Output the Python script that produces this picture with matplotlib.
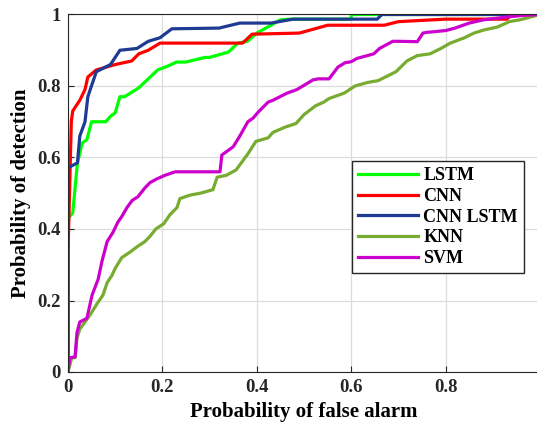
import numpy as np
import matplotlib
matplotlib.use("Agg")
import matplotlib.pyplot as plt

plt.rcParams['font.family'] = ['Liberation Serif', 'DejaVu Serif']
plt.rcParams['font.weight'] = 'bold'

# ROC points (false alarm, detection)
lstm_x = [0.0, 0.0, 0.01, 0.02, 0.03, 0.04, 0.05, 0.08, 0.09, 0.10, 0.11, 0.12,
          0.15, 0.17, 0.19, 0.21, 0.23, 0.25, 0.29, 0.30, 0.34, 0.36, 0.38, 0.40,
          0.43, 0.45, 0.47, 0.49, 0.60, 0.60, 1.0]
lstm_y = [0.0, 0.43, 0.445, 0.585, 0.64, 0.65, 0.70, 0.70, 0.715, 0.725, 0.77, 0.77,
          0.795, 0.82, 0.845, 0.855, 0.867, 0.867, 0.88, 0.88, 0.895, 0.92, 0.925, 0.948,
          0.97, 0.985, 0.987, 0.987, 0.987, 1.0, 1.0]

cnn_x = [0.0, 0.0, 0.007, 0.01, 0.025, 0.036, 0.042, 0.06, 0.10, 0.135, 0.15, 0.17,
         0.195, 0.37, 0.39, 0.49, 0.55, 0.67, 0.70, 0.80, 0.93, 0.94, 1.0]
cnn_y = [0.0, 0.33, 0.70, 0.73, 0.76, 0.79, 0.825, 0.845, 0.86, 0.87, 0.89, 0.90,
         0.92, 0.92, 0.945, 0.948, 0.97, 0.97, 0.98, 0.987, 0.987, 1.0, 1.0]

cnnlstm_x = [0.0, 0.0, 0.004, 0.02, 0.025, 0.036, 0.042, 0.06, 0.09, 0.11, 0.146,
             0.17, 0.195, 0.22, 0.32, 0.364, 0.43, 0.477, 0.655, 0.665, 1.0]
cnnlstm_y = [0.0, 0.57, 0.574, 0.585, 0.66, 0.70, 0.77, 0.84, 0.86, 0.90, 0.905,
             0.925, 0.935, 0.96, 0.962, 0.976, 0.976, 0.987, 0.987, 1.0, 1.0]

knn_x = [0.0, 0.008, 0.015, 0.019, 0.025, 0.036, 0.047, 0.061, 0.074, 0.083, 0.093,
         0.10, 0.114, 0.131, 0.146, 0.163, 0.174, 0.186, 0.203, 0.216, 0.231, 0.237,
         0.259, 0.28, 0.307, 0.316, 0.335, 0.356, 0.381, 0.398, 0.424, 0.434, 0.460,
         0.483, 0.5, 0.525, 0.542, 0.553, 0.585, 0.608, 0.635, 0.657, 0.695, 0.718,
         0.74, 0.767, 0.79, 0.81, 0.84, 0.86, 0.882, 0.91, 0.935, 0.957, 0.98, 1.0]
knn_y = [0.0, 0.04, 0.04, 0.095, 0.12, 0.14, 0.16, 0.19, 0.215, 0.25, 0.27,
         0.29, 0.32, 0.335, 0.35, 0.365, 0.38, 0.40, 0.415, 0.44, 0.46, 0.485,
         0.495, 0.50, 0.51, 0.545, 0.55, 0.565, 0.61, 0.645, 0.655, 0.67, 0.685,
         0.695, 0.72, 0.745, 0.755, 0.765, 0.78, 0.80, 0.81, 0.815, 0.84, 0.87,
         0.885, 0.89, 0.905, 0.92, 0.935, 0.948, 0.957, 0.965, 0.98, 0.985, 0.993, 1.0]

svm_x = [0.0, 0.004, 0.015, 0.019, 0.025, 0.04, 0.051, 0.064, 0.072, 0.083, 0.095,
         0.106, 0.114, 0.125, 0.136, 0.148, 0.163, 0.174, 0.188, 0.205, 0.227, 0.256,
         0.322, 0.326, 0.350, 0.364, 0.381, 0.392, 0.403, 0.424, 0.434, 0.464, 0.485,
         0.519, 0.53, 0.553, 0.572, 0.587, 0.6, 0.612, 0.648, 0.66, 0.688, 0.70,
         0.74, 0.752, 0.76, 0.80, 0.82, 0.85, 0.88, 0.93, 0.96, 1.0]
svm_y = [0.0, 0.04, 0.042, 0.11, 0.14, 0.15, 0.215, 0.26, 0.31, 0.365, 0.39,
         0.42, 0.435, 0.46, 0.48, 0.49, 0.515, 0.53, 0.54, 0.55, 0.56, 0.56,
         0.56, 0.607, 0.63, 0.66, 0.70, 0.71, 0.727, 0.755, 0.76, 0.78, 0.79,
         0.817, 0.82, 0.82, 0.853, 0.865, 0.868, 0.877, 0.89, 0.905, 0.925, 0.925,
         0.924, 0.948, 0.95, 0.955, 0.962, 0.976, 0.985, 0.993, 0.997, 1.0]

series = [
    ("LSTM", lstm_x, lstm_y, "#00FF00"),
    ("CNN", cnn_x, cnn_y, "#FF0000"),
    ("CNN LSTM", cnnlstm_x, cnnlstm_y, "#1F3A93"),
    ("KNN", knn_x, knn_y, "#77AC30"),
    ("SVM", svm_x, svm_y, "#CC00CC"),
]
ticks = [0, 0.2, 0.4, 0.6, 0.8, 1]
tick_labels = ["0", "0.2", "0.4", "0.6", "0.8", "1"]

fig = plt.figure(figsize=(5.37, 4.30), dpi=100)
# axes box runs a few pixels past the right edge, as in the reference
ax = fig.add_axes([68 / 537, 1 - 372 / 430, 472 / 537, 357.5 / 430])

for name, xs, ys, col in series:
    ax.plot(xs, ys, color=col, lw=2.3, label=name)

ax.set_xlim(0, 1)
ax.set_ylim(0, 1)
ax.set_xticks(ticks)
ax.set_xticklabels(tick_labels)
ax.set_yticks(ticks)
ax.set_yticklabels(tick_labels)
ax.grid(True, color="#dcdcdc", lw=0.9)
ax.set_axisbelow(True)
ax.tick_params(direction="in", length=4, labelsize=13.5, colors="#262626",
               width=0.8, pad=5)
for lab in ax.get_xticklabels() + ax.get_yticklabels():
    lab.set_fontweight("bold")
for sp in ax.spines.values():
    sp.set_color("#262626")
    sp.set_linewidth(0.8)

ax.set_xlabel("Probability of false alarm", fontsize=15, fontweight="bold",
              labelpad=4)
ax.set_ylabel("Probability of detection", fontsize=15, fontweight="bold",
              labelpad=5)

leg = ax.legend(loc="upper left", bbox_to_anchor=(0.602, 0.59),
                borderaxespad=0, handlelength=3.3, handletextpad=0.3,
                labelspacing=0.2, borderpad=0.35, fancybox=False, framealpha=1,
                edgecolor="#262626", prop={"weight": "bold", "size": 13})
leg.get_frame().set_linewidth(1.0)

fig.savefig("out.png", dpi=100)
